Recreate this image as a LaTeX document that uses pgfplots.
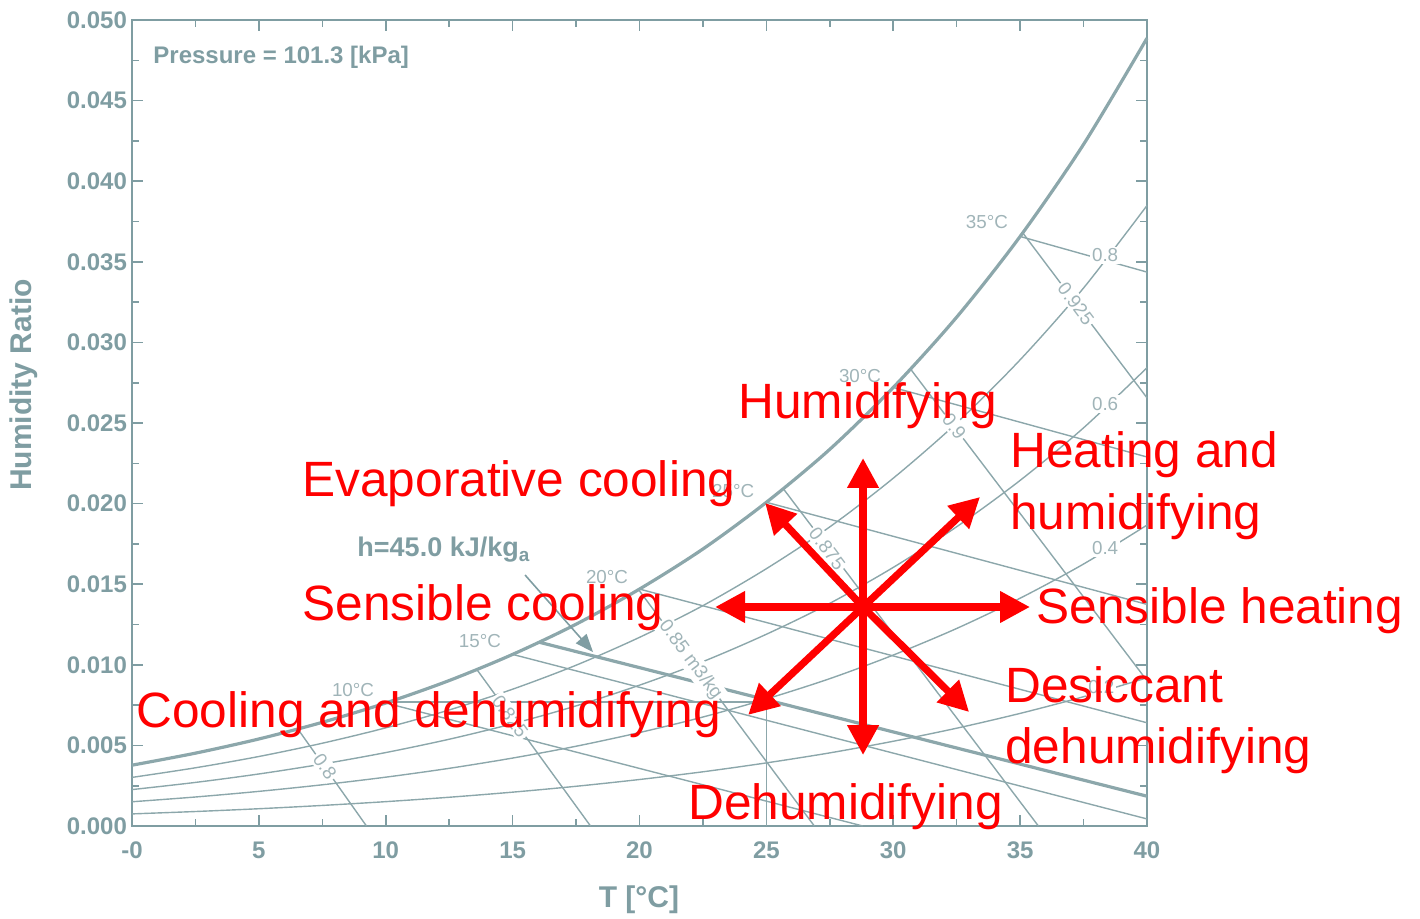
\documentclass[border=0pt]{standalone}
\usepackage{fontspec}
\setmainfont{Liberation Sans}
\usepackage{pgfplots}
\pgfplotsset{compat=1.18}
\usetikzlibrary{arrows.meta}
\definecolor{psytext}{RGB}{127,157,162}
\definecolor{psyline}{RGB}{140,167,171}
\definecolor{psylab}{RGB}{160,180,184}
\newcommand\smalllab{\fontsize{9.4}{11}\selectfont}
\newcommand\redfont{\fontsize{24.8}{30}\selectfont}
\begin{document}
\begin{tikzpicture}
\begin{axis}[
  scale only axis, width=507.5pt, height=403pt,
  xmin=0, xmax=40, ymin=0, ymax=0.05,
  clip=false,
  axis line style={psytext, line width=1pt},
  xtick={0,5,10,15,20,25,30,35,40},
  xticklabels={-0,5,10,15,20,25,30,35,40},
  minor xtick={2.5,7.5,12.5,17.5,22.5,27.5,32.5,37.5},
  ytick={0,0.005,0.01,0.015,0.02,0.025,0.03,0.035,0.04,0.045,0.05},
  yticklabels={0.000,0.005,0.010,0.015,0.020,0.025,0.030,0.035,0.040,0.045,0.050},
  minor ytick={0.0025,0.0075,0.0125,0.0175,0.0225,0.0275,0.0325,0.0375,0.0425,0.0475},
  scaled y ticks=false,
  tick align=inside,
  major tick length=5.5pt, minor tick length=3.5pt,
  every tick/.style={psytext, line width=0.8pt},
  every minor tick/.style={psytext, line width=0.8pt},
  tick label style={font=\fontsize{12}{14}\selectfont\bfseries, text=psytext},
  xticklabel style={yshift=-4.5pt},
  yticklabel style={xshift=1pt},
  xlabel={T [°C]}, ylabel={Humidity Ratio},
  label style={font=\fontsize{15}{18}\selectfont\bfseries, text=psytext},
  xlabel style={at={(axis description cs:0.4995,-0.0918)}, anchor=center},
  ylabel style={at={(axis description cs:-0.1064,0.547)}, anchor=center},
]
% relative humidity curves
\addplot[psyline, line width=1.6pt, smooth] coordinates {(0,0.003773) (2.5,0.004520) (5,0.005399) (7.5,0.006432) (10,0.007631) (12.5,0.009024) (15,0.010646) (17.5,0.012518) (20,0.014698) (22.5,0.017184) (25,0.020082) (27.5,0.023369) (30,0.027205) (32.5,0.031567) (35,0.036573) (37.5,0.042286) (40,0.048870)};
\addplot[psyline, line width=0.7pt, smooth] coordinates {(0,0.003015) (2.5,0.003611) (5,0.004312) (7.5,0.005135) (10,0.006090) (12.5,0.007198) (15,0.008487) (17.5,0.009974) (20,0.011703) (22.5,0.013671) (25,0.015962) (27.5,0.018556) (30,0.021575) (32.5,0.025000) (35,0.028919) (37.5,0.033375) (40,0.038491)};
\addplot[psyline, line width=0.7pt, smooth] coordinates {(0,0.002259) (2.5,0.002704) (5,0.003228) (7.5,0.003843) (10,0.004556) (12.5,0.005383) (15,0.006344) (17.5,0.007451) (20,0.008736) (22.5,0.010198) (25,0.011895) (27.5,0.013814) (30,0.016042) (32.5,0.018564) (35,0.021440) (37.5,0.024700) (40,0.028428)};
\addplot[psyline, line width=0.7pt, smooth] coordinates {(0,0.001504) (2.5,0.001800) (5,0.002149) (7.5,0.002557) (10,0.003030) (12.5,0.003578) (15,0.004215) (17.5,0.004948) (20,0.005797) (22.5,0.006761) (25,0.007880) (27.5,0.009142) (30,0.010604) (32.5,0.012254) (35,0.014131) (37.5,0.016252) (40,0.018668)};
\addplot[psyline, line width=0.7pt, smooth] coordinates {(0,0.000751) (2.5,0.000899) (5,0.001072) (7.5,0.001276) (10,0.001511) (12.5,0.001784) (15,0.002100) (17.5,0.002464) (20,0.002885) (22.5,0.003363) (25,0.003915) (27.5,0.004537) (30,0.005257) (32.5,0.006067) (35,0.006986) (37.5,0.008021) (40,0.009196)};
% wet-bulb lines
\addplot[psyline, line width=0.7pt] coordinates {(10,0.007631) (28.80,0)};
\addplot[psyline, line width=0.7pt] coordinates {(15,0.010646) (40,0.000439)};
\addplot[psyline, line width=0.7pt] coordinates {(20,0.014698) (40,0.006404)};
\addplot[psyline, line width=0.7pt] coordinates {(25,0.020082) (40,0.013748)};
\addplot[psyline, line width=0.7pt] coordinates {(30,0.027205) (40,0.022892)};
\addplot[psyline, line width=0.7pt] coordinates {(35,0.036573) (40,0.034362)};
% specific volume lines
\addplot[psyline, line width=0.7pt] coordinates {(6.53,0.00603) (9.24,0)};
\addplot[psyline, line width=0.7pt] coordinates {(13.58,0.00973) (18.07,0)};
\addplot[psyline, line width=0.7pt] coordinates {(19.96,0.01467) (26.89,0)};
\addplot[psyline, line width=0.7pt] coordinates {(25.66,0.02094) (35.72,0)};
\addplot[psyline, line width=0.7pt] coordinates {(30.67,0.02837) (40,0.00902)};
\addplot[psyline, line width=0.7pt] coordinates {(35.1,0.0368) (40,0.02656)};
% enthalpy h=45 line
\addplot[psyline, line width=1.6pt] coordinates {(16.05,0.01140) (40,0.001848)};
% state point guide lines
\addplot[psyline, line width=0.7pt] coordinates {(10.1,0.0077) (25,0.0077) (25,0)};
% h label leader
\addplot[psytext, line width=0.8pt, -{Triangle[length=9pt,width=7pt]}] coordinates {(15.49,0.01557) (18.17,0.01079)};
% labels
\node[anchor=west, inner sep=0pt, text=psytext, font=\fontsize{12}{14}\selectfont\bfseries] at (axis cs:0.83,0.0477) {Pressure = 101.3 [kPa]};
\node[anchor=base west, inner sep=0pt, text=psytext, font=\fontsize{13.5}{16}\selectfont\bfseries] at (axis cs:8.87,0.01669) {h=45.0 kJ/kg\textsubscript{a}};
\begin{scope}[every node/.style={text=psylab, font=\smalllab}]
\node at (axis cs:33.69,0.03747) {35°C};
\node at (axis cs:28.69,0.02792) {30°C};
\node at (axis cs:23.69,0.02078) {25°C};
\node at (axis cs:18.72,0.01545) {20°C};
\node at (axis cs:13.71,0.01148) {15°C};
\node at (axis cs:8.71,0.00844) {10°C};
\end{scope}
\begin{scope}[every node/.style={text=psylab, font=\smalllab, fill=white, inner sep=1pt}]
\node at (axis cs:38.35,0.0354) {0.8};
\node at (axis cs:38.35,0.02618) {0.6};
\node at (axis cs:38.35,0.01725) {0.4};
\node at (axis cs:38.2,0.0086) {0.2};
\node[rotate=-55] at (axis cs:7.6,0.0037) {0.8};
\node[rotate=-54] at (axis cs:14.9,0.0068) {0.825};
\node[rotate=-53.4] at (axis cs:22.0,0.0103) {0.85 m3/kg};
\node[rotate=-53] at (axis cs:27.4,0.0172) {0.875};
\node[rotate=-52.7] at (axis cs:32.4,0.0248) {0.9};
\node[rotate=-53] at (axis cs:37.2,0.0324) {0.925};
\end{scope}
% red process arrows
\begin{scope}[every node/.style={text=red, font=\redfont, anchor=base west, inner sep=0pt}]
\addplot[red, line width=3.6pt, -{Triangle[length=15pt,width=15pt]}] coordinates {(28.81,0.013586) (28.81,0.02283)};
\addplot[red, line width=3.6pt, -{Triangle[length=15pt,width=15pt]}] coordinates {(28.81,0.013586) (28.81,0.00440)};
\addplot[red, line width=3.6pt, -{Triangle[length=15pt,width=15pt]}] coordinates {(28.81,0.013586) (22.98,0.013586)};
\addplot[red, line width=3.6pt, -{Triangle[length=15pt,width=15pt]}] coordinates {(28.81,0.013586) (35.39,0.013586)};
\addplot[red, line width=3.6pt, -{Triangle[length=15pt,width=15pt]}] coordinates {(28.81,0.013586) (24.95,0.02004)};
\addplot[red, line width=3.6pt, -{Triangle[length=15pt,width=15pt]}] coordinates {(28.81,0.013586) (33.42,0.02041)};
\addplot[red, line width=3.6pt, -{Triangle[length=15pt,width=15pt]}] coordinates {(28.81,0.013586) (24.28,0.00689)};
\addplot[red, line width=3.6pt, -{Triangle[length=15pt,width=15pt]}] coordinates {(28.81,0.013586) (32.99,0.00707)};
\node at (axis cs:23.88,0.02525) {Humidifying};
\node at (axis cs:6.70,0.02041) {Evaporative cooling};
\node at (axis cs:34.60,0.02221) {Heating and};
\node at (axis cs:34.60,0.01842) {humidifying};
\node at (axis cs:6.70,0.01272) {Sensible cooling};
\node at (axis cs:35.63,0.01259) {Sensible heating};
\node at (axis cs:0.16,0.00614) {Cooling and dehumidifying};
\node at (axis cs:34.40,0.00769) {Desiccant};
\node at (axis cs:34.40,0.00385) {dehumidifying};
\node at (axis cs:21.91,0.00043) {Dehumidifying};
\end{scope}
\end{axis}
\pgfresetboundingbox
\path (-66pt,-46pt) rectangle (644pt,413pt);
\end{tikzpicture}
\end{document}
